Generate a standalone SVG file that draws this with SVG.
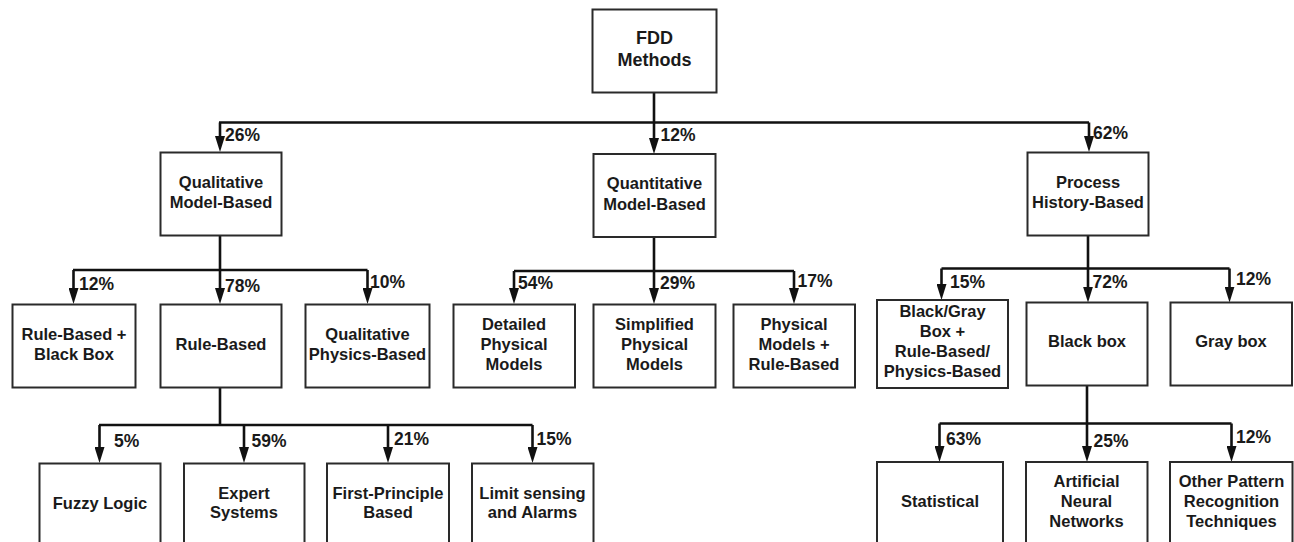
<svg xmlns="http://www.w3.org/2000/svg" width="1294" height="542" viewBox="0 0 1294 542">
<style>
.box{fill:#fff;stroke:#2a2a2a;stroke-width:2}
.t{font-family:"Liberation Sans",Arial,sans-serif;font-weight:bold;font-size:16.5px;fill:#1a1a1a;text-anchor:middle}
.big{font-size:18px}
.p{font-family:"Liberation Sans",Arial,sans-serif;font-weight:bold;font-size:17.5px;fill:#1a1a1a}
.c{fill:none;stroke:#111;stroke-width:2.6}
.a{fill:none;stroke:#111;stroke-width:2.6;marker-end:url(#ah)}
</style>
<defs>
<marker id="ah" viewBox="0 0 16 10" refX="6" refY="5" markerWidth="16" markerHeight="10" markerUnits="userSpaceOnUse" orient="auto">
<path d="M0,0 L16,5 L0,10 z" fill="#111"/>
</marker>
</defs>
<rect width="1294" height="542" fill="#fff"/>
<g id="connectors">
<path class="c" d="M654,92 V122.5 M219,122.5 H1089"/>
<path class="a" d="M220,122.5 V142"/>
<path class="a" d="M654,122.5 V144"/>
<path class="a" d="M1089,122.5 V142"/>
<path class="c" d="M220,235 V270 M73,270 H367.5"/>
<path class="a" d="M73.5,270 V294"/>
<path class="a" d="M220,270 V294"/>
<path class="a" d="M367.5,270 V294"/>
<path class="c" d="M654,237 V271 M514,271 H794"/>
<path class="a" d="M514,271 V294"/>
<path class="a" d="M654,271 V294"/>
<path class="a" d="M794,271 V294"/>
<path class="c" d="M1088,235 V268.5 M941.5,268.5 H1229.5"/>
<path class="a" d="M941.5,268.5 V290"/>
<path class="a" d="M1088,268.5 V292.5"/>
<path class="a" d="M1229.5,268.5 V292.5"/>
<path class="c" d="M220,387 V425 M99,425 H532.5"/>
<path class="a" d="M99.5,425 V453"/>
<path class="a" d="M244,425 V453"/>
<path class="a" d="M388,425 V453"/>
<path class="a" d="M532.5,425 V453"/>
<path class="c" d="M1087,385 V423.5 M939.5,423.5 H1231.5"/>
<path class="a" d="M939.5,423.5 V452"/>
<path class="a" d="M1087,423.5 V452"/>
<path class="a" d="M1231.5,423.5 V452"/>
</g>
<g id="labels">
<text class="p" x="225" y="140.7">26%</text>
<text class="p" x="660.5" y="140.7">12%</text>
<text class="p" x="1093" y="139">62%</text>
<text class="p" x="79" y="290">12%</text>
<text class="p" x="225" y="291.5">78%</text>
<text class="p" x="370" y="288.3">10%</text>
<text class="p" x="518" y="289">54%</text>
<text class="p" x="660" y="289">29%</text>
<text class="p" x="797.5" y="287.3">17%</text>
<text class="p" x="950" y="288.3">15%</text>
<text class="p" x="1092.5" y="288">72%</text>
<text class="p" x="1236" y="285">12%</text>
<text class="p" x="114" y="446.7">5%</text>
<text class="p" x="251.5" y="446.7">59%</text>
<text class="p" x="394" y="445">21%</text>
<text class="p" x="536.5" y="445">15%</text>
<text class="p" x="946" y="445">63%</text>
<text class="p" x="1093.5" y="446.7">25%</text>
<text class="p" x="1236" y="442.7">12%</text>
</g>
<g id="n-fdd"><rect class="box" x="592.5" y="9.5" width="124" height="83"/><text class="t big" x="654.5" y="43.5">FDD</text><text class="t big" x="654.5" y="65.5">Methods</text></g>
<g id="n-qual"><rect class="box" x="160.5" y="152.5" width="121" height="83"/><text class="t" x="221" y="187.5">Qualitative</text><text class="t" x="221" y="208">Model-Based</text></g>
<g id="n-quant"><rect class="box" x="593.5" y="154" width="122" height="83"/><text class="t" x="654.5" y="189">Quantitative</text><text class="t" x="654.5" y="209.5">Model-Based</text></g>
<g id="n-proc"><rect class="box" x="1027.5" y="152.5" width="121" height="83"/><text class="t" x="1088" y="187.5">Process</text><text class="t" x="1088" y="208">History-Based</text></g>
<g id="n-rbbb"><rect class="box" x="12.5" y="304.5" width="123" height="83"/><text class="t" x="74" y="339.5">Rule-Based +</text><text class="t" x="74" y="359.5">Black Box</text></g>
<g id="n-rb"><rect class="box" x="160.5" y="304.5" width="121" height="83"/><text class="t" x="221" y="349.5">Rule-Based</text></g>
<g id="n-qpb"><rect class="box" x="305.5" y="304.5" width="124" height="83"/><text class="t" x="367.5" y="339.5">Qualitative</text><text class="t" x="367.5" y="359.5">Physics-Based</text></g>
<g id="n-dpm"><rect class="box" x="453.5" y="304.5" width="121.5" height="83"/><text class="t" x="514" y="329.5">Detailed</text><text class="t" x="514" y="349.5">Physical</text><text class="t" x="514" y="369.5">Models</text></g>
<g id="n-spm"><rect class="box" x="593.5" y="304.5" width="122" height="83"/><text class="t" x="654.5" y="329.5">Simplified</text><text class="t" x="654.5" y="349.5">Physical</text><text class="t" x="654.5" y="369.5">Models</text></g>
<g id="n-pmrb"><rect class="box" x="733.5" y="304.5" width="121.5" height="83"/><text class="t" x="794" y="329.5">Physical</text><text class="t" x="794" y="349.5">Models +</text><text class="t" x="794" y="369.5">Rule-Based</text></g>
<g id="n-bgb"><rect class="box" x="877" y="300" width="131" height="88"/><text class="t" x="942.5" y="316.7">Black/Gray</text><text class="t" x="942.5" y="336.7">Box +</text><text class="t" x="942.5" y="356.7">Rule-Based/</text><text class="t" x="942.5" y="376.7">Physics-Based</text></g>
<g id="n-bb"><rect class="box" x="1026.5" y="302.5" width="121" height="83"/><text class="t" x="1087" y="347">Black box</text></g>
<g id="n-gb"><rect class="box" x="1170.5" y="302.5" width="121.5" height="83"/><text class="t" x="1231" y="347">Gray box</text></g>
<g id="n-fuzzy"><rect class="box" x="39.5" y="463.5" width="121" height="83"/><text class="t" x="100" y="508.5">Fuzzy Logic</text></g>
<g id="n-expert"><rect class="box" x="184" y="463.5" width="120.5" height="83"/><text class="t" x="244" y="498.5">Expert</text><text class="t" x="244" y="518">Systems</text></g>
<g id="n-fp"><rect class="box" x="327" y="463.5" width="122" height="83"/><text class="t" x="388" y="498.5">First-Principle</text><text class="t" x="388" y="518">Based</text></g>
<g id="n-limit"><rect class="box" x="472" y="463.5" width="121.5" height="83"/><text class="t" x="532.5" y="498.5">Limit sensing</text><text class="t" x="532.5" y="518">and Alarms</text></g>
<g id="n-stat"><rect class="box" x="877" y="462" width="126" height="83"/><text class="t" x="940" y="507">Statistical</text></g>
<g id="n-ann"><rect class="box" x="1026" y="462" width="121.5" height="83"/><text class="t" x="1086.5" y="487">Artificial</text><text class="t" x="1086.5" y="507">Neural</text><text class="t" x="1086.5" y="527">Networks</text></g>
<g id="n-other"><rect class="box" x="1170" y="462" width="122.5" height="83"/><text class="t" x="1231.5" y="487">Other Pattern</text><text class="t" x="1231.5" y="507">Recognition</text><text class="t" x="1231.5" y="527">Techniques</text></g>
</svg>
